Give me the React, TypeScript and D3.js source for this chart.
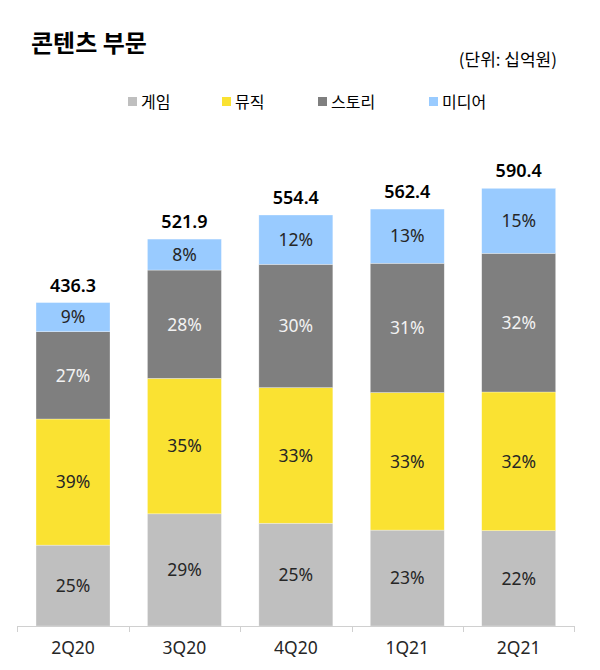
import React from "react";
import * as d3 from "d3";

const quarters = ["2Q20", "3Q20", "4Q20", "1Q21", "2Q21"];
const totals = [436.3, 521.9, 554.4, 562.4, 590.4];
const seriesNames = ["게임", "뮤직", "스토리", "미디어"];
const gamePct = [25, 29, 25, 23, 22];
const musicPct = [39, 35, 33, 33, 32];
const storyPct = [27, 28, 30, 31, 32];
const mediaPct = [9, 8, 12, 13, 15];
const seriesColors = ["#bfbfbf", "#fae232", "#7f7f7f", "#99cbff"];
const labelColors = ["#262626", "#262626", "#f2f2f2", "#262626"];

const W = 600;
const H = 670;
const FONT = "'Noto Sans', 'Noto Sans CJK KR', sans-serif";
const KFONT = "'Noto Sans CJK KR', 'Noto Sans', sans-serif";

export default function App() {
  const pcts = [gamePct, musicPct, storyPct, mediaPct];
  const rows = quarters.map((q, i) => {
    const sum = pcts.reduce((s, p) => s + p[i], 0);
    const row: any = { q, total: totals[i] };
    seriesNames.forEach((n, k) => {
      row[n] = (totals[i] * pcts[k][i]) / sum;
      row[n + "_pct"] = pcts[k][i];
    });
    return row;
  });
  const stack = d3.stack<any>().keys(seriesNames)(rows);

  const x = d3
    .scaleBand<string>()
    .domain(quarters)
    .range([17.3, 574.4])
    .paddingInner(0.336)
    .paddingOuter(0.168);
  const y = d3.scaleLinear().domain([0, 600]).range([626, 181.2]);
  const step = x.step();
  const axisLeft = 17.3;
  const axisRight = 574.4;

  const legendX = [128, 222, 318, 429];

  return (
    <svg
      width={W}
      height={H}
      style={{ position: "absolute", left: 0, top: 0, background: "#fff" }}
    >
      <text x={31} y={52} fontFamily={KFONT} fontWeight={700} fontSize={24} fill="#000">
        콘텐츠 부문
      </text>
      <text x={557} y={66} textAnchor="end" fontFamily={KFONT} fontSize={17} fill="#000">
        (단위: 십억원)
      </text>
      {seriesNames.map((n, k) => (
        <g key={n}>
          <rect x={legendX[k]} y={97} width={9} height={9} fill={seriesColors[k]} />
          <text x={legendX[k] + 13} y={108} fontFamily={KFONT} fontSize={16} fill="#000">
            {n}
          </text>
        </g>
      ))}
      {stack.map((layer, k) => (
        <g key={layer.key}>
          {layer.map((d, i) => {
            const bx = x(quarters[i])!;
            const y0 = y(d[0]);
            const y1 = y(d[1]);
            return (
              <g key={i}>
                <rect
                  x={bx}
                  y={y1}
                  width={x.bandwidth()}
                  height={y0 - y1}
                  fill={seriesColors[k]}
                  stroke="#ffffff"
                  strokeOpacity={0.5}
                  strokeWidth={0.6}
                />
                <text
                  x={bx + x.bandwidth() / 2}
                  y={(y0 + y1) / 2}
                  dy="0.36em"
                  textAnchor="middle"
                  fontFamily={FONT}
                  fontSize={17.5}
                  fill={labelColors[k]}
                >
                  {rows[i][layer.key + "_pct"]}%
                </text>
              </g>
            );
          })}
        </g>
      ))}
      {rows.map((r, i) => (
        <text
          key={r.q}
          x={x(r.q)! + x.bandwidth() / 2}
          y={y(r.total) - 11}
          textAnchor="middle"
          fontFamily={FONT}
          fontWeight={600}
          fontSize={18}
          fill="#000"
        >
          {r.total.toFixed(1)}
        </text>
      ))}
      <line x1={axisLeft} x2={axisRight} y1={626.5} y2={626.5} stroke="#d0d0d0" strokeWidth={1} />
      {d3.range(quarters.length + 1).map((i) => {
        const tx = Math.round(axisLeft + i * step) + 0.5;
        return <line key={i} x1={tx} x2={tx} y1={626} y2={632} stroke="#d0d0d0" strokeWidth={1} />;
      })}
      {quarters.map((q) => (
        <text
          key={q}
          x={x(q)! + x.bandwidth() / 2}
          y={654}
          textAnchor="middle"
          fontFamily={FONT}
          fontSize={17.5}
          fill="#262626"
        >
          {q}
        </text>
      ))}
    </svg>
  );
}
